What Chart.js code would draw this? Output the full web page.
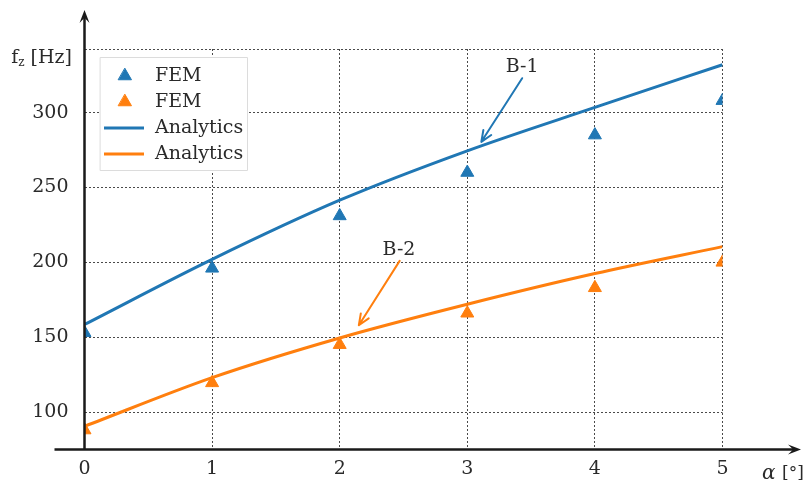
<!DOCTYPE html>
<html>
<head>
<meta charset="utf-8">
<script src="https://cdn.jsdelivr.net/npm/chart.js@4.4.1/dist/chart.umd.min.js"></script>
<style>
	html, body { margin: 0; padding: 0; background: #fff; }
	canvas { display: block; }
</style>
</head>
<body>
<canvas id="chart" width="803" height="482"></canvas>
<script>
// angle of attack alpha [deg]
const alpha = [0, 1, 2, 3, 4, 5];

// natural frequency f_z [Hz]
const femB1 = [153, 196, 231, 260, 285, 308];
const femB2 = [88, 119.5, 145, 166, 183, 200];
const analyticsB1 = [158.5, 202, 241.5, 274.5, 303.5, 332];
const analyticsB2 = [90.5, 123, 149.5, 172, 192.5, 210.5];

const xTicks = [0, 1, 2, 3, 4, 5];
const yTicks = [100, 150, 200, 250, 300];

// callouts: label, text anchor, arrow start, arrow tip (data units)
const noteLabels = ["B-1", "B-2"];
const noteText = [[3.43, 330.5], [2.465, 208.5]];
const noteFrom = [[3.43, 323], [2.47, 201]];
const noteTo = [[3.11, 280.5], [2.15, 158]];

const BLUE = "#2077b4";
const ORANGE = "#ff7f0e";
const FONT = "'DejaVu Serif', serif";
const TEXT = "#2a2a2a";

function pts(xs, ys) {
	return xs.map((x, i) => ({ x: x, y: ys[i] }));
}

function arrowHead(ctx, x, y, ang, len, half) {
	ctx.beginPath();
	ctx.moveTo(x, y);
	ctx.lineTo(x - len * Math.cos(ang) + half * Math.sin(ang), y - len * Math.sin(ang) - half * Math.cos(ang));
	ctx.lineTo(x - 0.6 * len * Math.cos(ang), y - 0.6 * len * Math.sin(ang));
	ctx.lineTo(x - len * Math.cos(ang) - half * Math.sin(ang), y - len * Math.sin(ang) + half * Math.cos(ang));
	ctx.closePath();
	ctx.fill();
}

const decorations = {
	id: "decorations",
	afterDraw(chart) {
		const { ctx, chartArea: a, scales } = chart;
		const xs = scales.x, ys = scales.y;
		ctx.save();

		// axes with arrows
		ctx.strokeStyle = "#1a1a1a";
		ctx.fillStyle = "#1a1a1a";
		ctx.lineWidth = 2.5;
		ctx.beginPath();
		ctx.moveTo(a.left, a.bottom + 1);
		ctx.lineTo(a.left, 14);
		ctx.moveTo(a.left - 30, a.bottom);
		ctx.lineTo(797, a.bottom);
		ctx.stroke();
		arrowHead(ctx, a.left, 10, -Math.PI / 2, 13, 5);
		arrowHead(ctx, 801, a.bottom, 0, 13, 5);

		// axis titles
		ctx.fillStyle = TEXT;
		ctx.textBaseline = "alphabetic";
		ctx.font = "19px " + FONT;
		ctx.textAlign = "right";
		ctx.fillText("[Hz]", 72, 63);
		const hz = ctx.measureText(" [Hz]").width;
		ctx.font = "12px " + FONT;
		ctx.fillText("z", 72 - hz, 66);
		const zw = ctx.measureText("z").width;
		ctx.font = "19px " + FONT;
		ctx.fillText("f", 72 - hz - zw, 63);

		ctx.textAlign = "left";
		ctx.font = "italic 20px " + FONT;
		ctx.fillText("α", 762, 479);
		ctx.font = "17px " + FONT;
		ctx.fillText("[°]", 782, 478);

		// callouts
		const colors = [BLUE, ORANGE];
		noteLabels.forEach((label, i) => {
			ctx.fillStyle = TEXT;
			ctx.font = "19px " + FONT;
			ctx.textAlign = "center";
			ctx.textBaseline = "middle";
			ctx.fillText(label, xs.getPixelForValue(noteText[i][0]), ys.getPixelForValue(noteText[i][1]));
			const x0 = xs.getPixelForValue(noteFrom[i][0]), y0 = ys.getPixelForValue(noteFrom[i][1]);
			const x1 = xs.getPixelForValue(noteTo[i][0]), y1 = ys.getPixelForValue(noteTo[i][1]);
			const ang = Math.atan2(y1 - y0, x1 - x0);
			ctx.strokeStyle = colors[i];
			ctx.lineWidth = 2;
			ctx.lineCap = "round";
			ctx.lineJoin = "round";
			ctx.beginPath();
			ctx.moveTo(x0, y0);
			ctx.lineTo(x1, y1);
			ctx.moveTo(x1 - 12 * Math.cos(ang - 0.4), y1 - 12 * Math.sin(ang - 0.4));
			ctx.lineTo(x1, y1);
			ctx.lineTo(x1 - 12 * Math.cos(ang + 0.4), y1 - 12 * Math.sin(ang + 0.4));
			ctx.stroke();
		});

		// legend box inside the plot
		const bx = a.left + 15.5, by = a.top + 8, bw = 147, bh = 113;
		ctx.fillStyle = "#fff";
		ctx.fillRect(bx, by, bw, bh);
		ctx.strokeStyle = "#dcdcdc";
		ctx.lineWidth = 1;
		ctx.strokeRect(bx + 0.5, by + 0.5, bw, bh);
		chart.data.datasets.forEach((ds, i) => {
			const cy = by + 19 + i * 26;
			ctx.fillStyle = ds.borderColor;
			ctx.strokeStyle = ds.borderColor;
			if (ds.showLine) {
				ctx.lineWidth = 3;
				ctx.lineCap = "butt";
				ctx.beginPath();
				ctx.moveTo(bx + 4, cy);
				ctx.lineTo(bx + 44, cy);
				ctx.stroke();
			} else {
				Chart.helpers.drawPoint(ctx, { pointStyle: "triangle", radius: 7.5, borderWidth: 1 }, bx + 25, cy);
			}
			ctx.fillStyle = TEXT;
			ctx.font = "19px " + FONT;
			ctx.textAlign = "left";
			ctx.textBaseline = "middle";
			ctx.fillText(ds.label, bx + 55, cy);
		});
		ctx.restore();
	},
};

new Chart(document.getElementById("chart"), {
	type: "scatter",
	data: {
		datasets: [
			{
				label: "FEM",
				data: pts(alpha, femB1),
				pointStyle: "triangle",
				pointRadius: 7.5,
				backgroundColor: BLUE,
				borderColor: BLUE,
				showLine: false,
			},
			{
				label: "FEM",
				data: pts(alpha, femB2),
				pointStyle: "triangle",
				pointRadius: 7.5,
				backgroundColor: ORANGE,
				borderColor: ORANGE,
				showLine: false,
			},
			{
				label: "Analytics",
				data: pts(alpha, analyticsB1),
				showLine: true,
				pointRadius: 0,
				borderWidth: 3,
				borderColor: BLUE,
				backgroundColor: BLUE,
				cubicInterpolationMode: "monotone",
			},
			{
				label: "Analytics",
				data: pts(alpha, analyticsB2),
				showLine: true,
				pointRadius: 0,
				borderWidth: 3,
				borderColor: ORANGE,
				backgroundColor: ORANGE,
				cubicInterpolationMode: "monotone",
			},
		],
	},
	options: {
		responsive: false,
		animation: false,
		layout: { padding: { left: 0, top: 49, right: 80.5, bottom: 0 } },
		plugins: {
			legend: { display: false },
			tooltip: { enabled: false },
		},
		scales: {
			x: {
				type: "linear",
				min: 0,
				max: 5,
				afterFit: (scale) => { scale.height = 32.5; },
				afterBuildTicks: (scale) => { scale.ticks = xTicks.map((v) => ({ value: v })); },
				ticks: {
					stepSize: 1,
					padding: 8,
					color: TEXT,
					font: { family: FONT, size: 19 },
				},
				grid: { color: "#4a4a4a", lineWidth: 1, drawTicks: false },
				border: { display: false, dash: [2, 2] },
			},
			y: {
				type: "linear",
				min: 75,
				max: 342.5,
				afterFit: (scale) => { scale.width = 84.5; },
				afterBuildTicks: (scale) => {
					scale.ticks = yTicks.map((v) => ({ value: v })).concat([{ value: scale.max }]);
				},
				ticks: {
					padding: 16,
					color: TEXT,
					font: { family: FONT, size: 19 },
					callback: (v) => (yTicks.includes(v) ? String(v) : ""),
				},
				grid: { color: "#4a4a4a", lineWidth: 1, drawTicks: false },
				border: { display: false, dash: [2, 2] },
			},
		},
	},
	plugins: [decorations],
});
</script>
</body>
</html>
